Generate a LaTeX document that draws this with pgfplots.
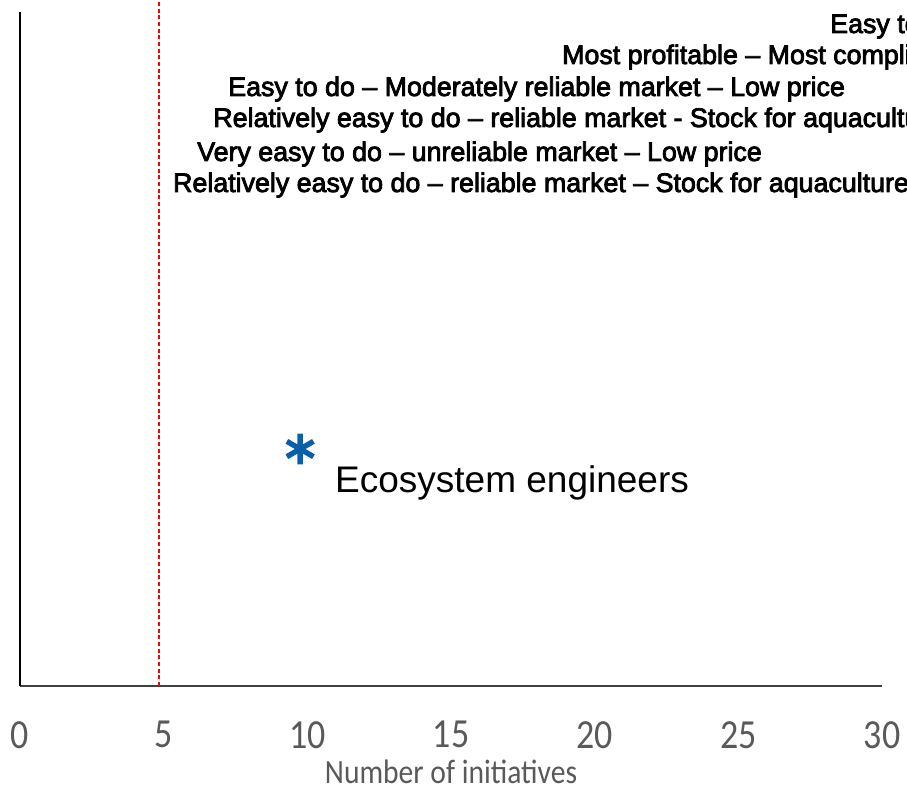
\documentclass[border=0pt]{standalone}
\usepackage{fontspec}
\setmainfont{Liberation Sans}
\newfontfamily\calib[Numbers=Lining, FakeStretch=0.87]{Carlito}
\newfontfamily\semib[FakeBold=3]{Liberation Sans}
\usepackage{pgfplots}
\pgfplotsset{compat=1.18}
\definecolor{astblue}{RGB}{10,95,170}
\definecolor{tickgray}{RGB}{89,89,89}
\definecolor{dashred}{RGB}{255,0,0}
\begin{document}
\begin{tikzpicture}
\path[use as bounding box, clip] (-15pt,-77.25pt) rectangle (665.25pt,514.5pt);
\begin{axis}[at={(0,0)}, anchor=south west, scale only axis, width=646.5pt, height=505.5pt,
 xmin=0, xmax=30, ymin=0, ymax=674,
 axis x line=bottom, axis y line=left, axis line style={-},
 x axis line style={draw=black!75, line width=1.1pt},
 y axis line style={draw=black, line width=1.1pt},
 xtick={0,5,...,30}, ytick=\empty, major tick length=0pt,
 /pgf/number format/assume math mode=true,
 xticklabel style={font=\calib\fontsize{31}{31}\selectfont, text=tickgray, anchor=north, yshift=-23pt},
 xlabel={Number of initiatives},
 xlabel style={font=\calib\fontsize{25.5}{25.5}\selectfont, text=tickgray, at={(axis description cs:0.5,0)}, anchor=center, yshift=-64pt},
 clip=false]
\addplot[color=dashred, solid, line width=1.1pt, dash pattern=on 3pt off 2pt, forget plot] coordinates {(4.83,0) (4.83,700)};
\addplot[only marks, mark=asterisk, mark size=11.5pt, mark options={line width=4pt, draw=astblue, line cap=butt}] coordinates {(9.75,237)};
\node[anchor=base west, inner sep=0, font=\fontsize{27.75}{27.75}\selectfont] at (axis cs:10.96,193) {Ecosystem engineers};
\node[anchor=base west, inner sep=0, font=\semib\fontsize{20.1}{20.1}\selectfont] at (axis cs:28.19,653) {Easy to do – Most reliable market};
\node[anchor=base west, inner sep=0, font=\semib\fontsize{20.1}{20.1}\selectfont] at (axis cs:18.86,622) {Most profitable – Most complicated};
\node[anchor=base west, inner sep=0, font=\semib\fontsize{20.1}{20.1}\selectfont] at (axis cs:7.24,590) {Easy to do – Moderately reliable market – Low price};
\node[anchor=base west, inner sep=0, font=\semib\fontsize{20.1}{20.1}\selectfont] at (axis cs:6.72,559) {Relatively easy to do – reliable market - Stock for aquaculture};
\node[anchor=base west, inner sep=0, font=\semib\fontsize{20.1}{20.1}\selectfont] at (axis cs:6.16,525) {Very easy to do – unreliable market – Low price};
\node[anchor=base west, inner sep=0, font=\semib\fontsize{20.1}{20.1}\selectfont] at (axis cs:5.32,494) {Relatively easy to do – reliable market – Stock for aquaculture};
\end{axis}
\end{tikzpicture}
\end{document}
